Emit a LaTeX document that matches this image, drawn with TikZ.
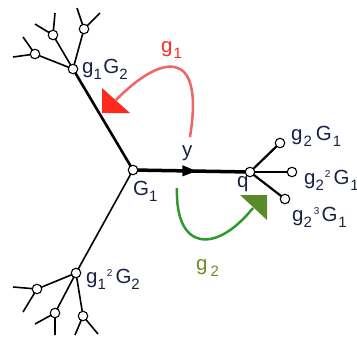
\documentclass[tikz,border=0pt]{standalone}
\usepackage{fontspec}
\setmainfont{Liberation Sans}
\usetikzlibrary{arrows.meta,decorations.markings}
\definecolor{txt}{HTML}{1A2244}
\definecolor{redarc}{HTML}{F06464}
\definecolor{redhead}{HTML}{FF2A1E}
\definecolor{greenarc}{HTML}{2E9A2E}
\definecolor{greenhead}{HTML}{5B8A2A}
\definecolor{greentxt}{HTML}{6B8E23}
\newcommand\sbs[1]{\raisebox{-0.3em}{\fontsize{15}{15}\selectfont #1}}
\newcommand\sps[1]{\raisebox{0.3em}{\fontsize{10}{10}\selectfont #1}}
\tikzset{
  vert/.style={circle,draw=black,fill=white,line width=1.1pt,minimum size=9.5pt,inner sep=0pt},
  lbl/.style={anchor=base west,inner sep=0pt,text=txt,font=\fontsize{20.5}{20.5}\selectfont},
  twig/.style={line width=1.6pt,black},
  branch/.style={line width=2.2pt,black},
}
\begin{document}
\begin{tikzpicture}[x=1pt,y=-1pt]
\useasboundingbox (0,0) rectangle (357,341);
\clip (0,0) rectangle (357,341);
% nodes
\coordinate (G1) at (133,170);
\coordinate (Q) at (250,172);
\coordinate (A) at (73,69);
\coordinate (B) at (76,273);
\coordinate (A1) at (35,54);
\coordinate (A2) at (53,35);
\coordinate (A3) at (84,29);
\coordinate (B1) at (37,289);
\coordinate (B2) at (55,313);
\coordinate (B3) at (83,316);
\coordinate (Q1) at (280,143);
\coordinate (Q2) at (292,172);
\coordinate (Q3) at (285,199);
% twig ends
\coordinate (a1a) at (13,57);  \coordinate (a1b) at (23,37);
\coordinate (a2a) at (35,24);  \coordinate (a2b) at (55,13);
\coordinate (a3a) at (77,8);   \coordinate (a3b) at (100,13);
\coordinate (b1a) at (13,287); \coordinate (b1b) at (23,312);
\coordinate (b2a) at (35,324); \coordinate (b2b) at (55,335);
\coordinate (b3a) at (75,335); \coordinate (b3b) at (98,334);
% edges
\draw[line width=3.5pt,postaction={decorate},decoration={markings,mark=at position 0.55 with {\arrow{Triangle[length=15pt,width=10pt]}}}] (G1) -- (Q);
\draw[line width=2.6pt] (G1) -- (A);
\draw[line width=1.6pt] (G1) -- (B);
\draw[twig] (A) -- (A1) (A) -- (A2) (A) -- (A3);
\draw[twig] (A1) -- (a1a) (A1) -- (a1b) (A2) -- (a2a) (A2) -- (a2b) (A3) -- (a3a) (A3) -- (a3b);
\draw[twig] (B) -- (B1) (B) -- (B2) (B) -- (B3);
\draw[twig] (B1) -- (b1a) (B1) -- (b1b) (B2) -- (b2a) (B2) -- (b2b) (B3) -- (b3a) (B3) -- (b3b);
\draw[branch] (Q) -- (Q1) (Q) -- (Q3);
\draw[twig] (Q) -- (Q2);
% vertices
\foreach \n in {G1,Q,A,B,A1,A2,A3,B1,B2,B3,Q1,Q2,Q3} \node[vert] (v\n) at (\n) {};
% arcs
\coordinate (rs) at (190,137);
\coordinate (re) at (116,100);
\draw[redarc,line width=2.5pt] (rs) .. controls (205,45) and (160,55) .. (re);
\fill[redhead] (102,88) -- (102,113) -- (130,113) -- cycle;
\coordinate (gs) at (177,188);
\coordinate (ge) at (253,208);
\draw[greenarc,line width=2.5pt] (gs) .. controls (175,250) and (215,255) .. (ge);
\fill[greenhead] (240,195) -- (267,195) -- (267,220) -- cycle;
% labels
\node[lbl] (lA) at (82,73) {g\sbs{1}\kern1.5pt G\sbs{2}};
\node[lbl] (lB) at (86,283) {g\sbs{1}\kern1pt\sps{2}\kern3pt G\sbs{2}};
\node[lbl] (lG) at (133,195) {G\sbs{1}};
\node[lbl] (ly) at (182,156) {y};
\node[lbl] (lq) at (237,187) {q};
\node[lbl] (lQ1) at (291,140) {g\kern1pt\sbs{2}\kern4pt G\kern1pt\sbs{1}};
\node[lbl] (lQ2) at (304,184) {g\sbs{2}\kern1pt\sps{2}\kern3pt G\kern1pt\sbs{1}};
\node[lbl] (lQ3) at (292,221) {g\sbs{2}\kern2pt\sps{3}\kern2pt G\kern1pt\sbs{1}};
\node[lbl,text=redhead] (lr) at (161,52) {g\kern1pt\sbs{1}};
\node[lbl,text=greentxt] (lg) at (196,270) {g\kern3pt\sbs{2}};
\end{tikzpicture}
\end{document}
